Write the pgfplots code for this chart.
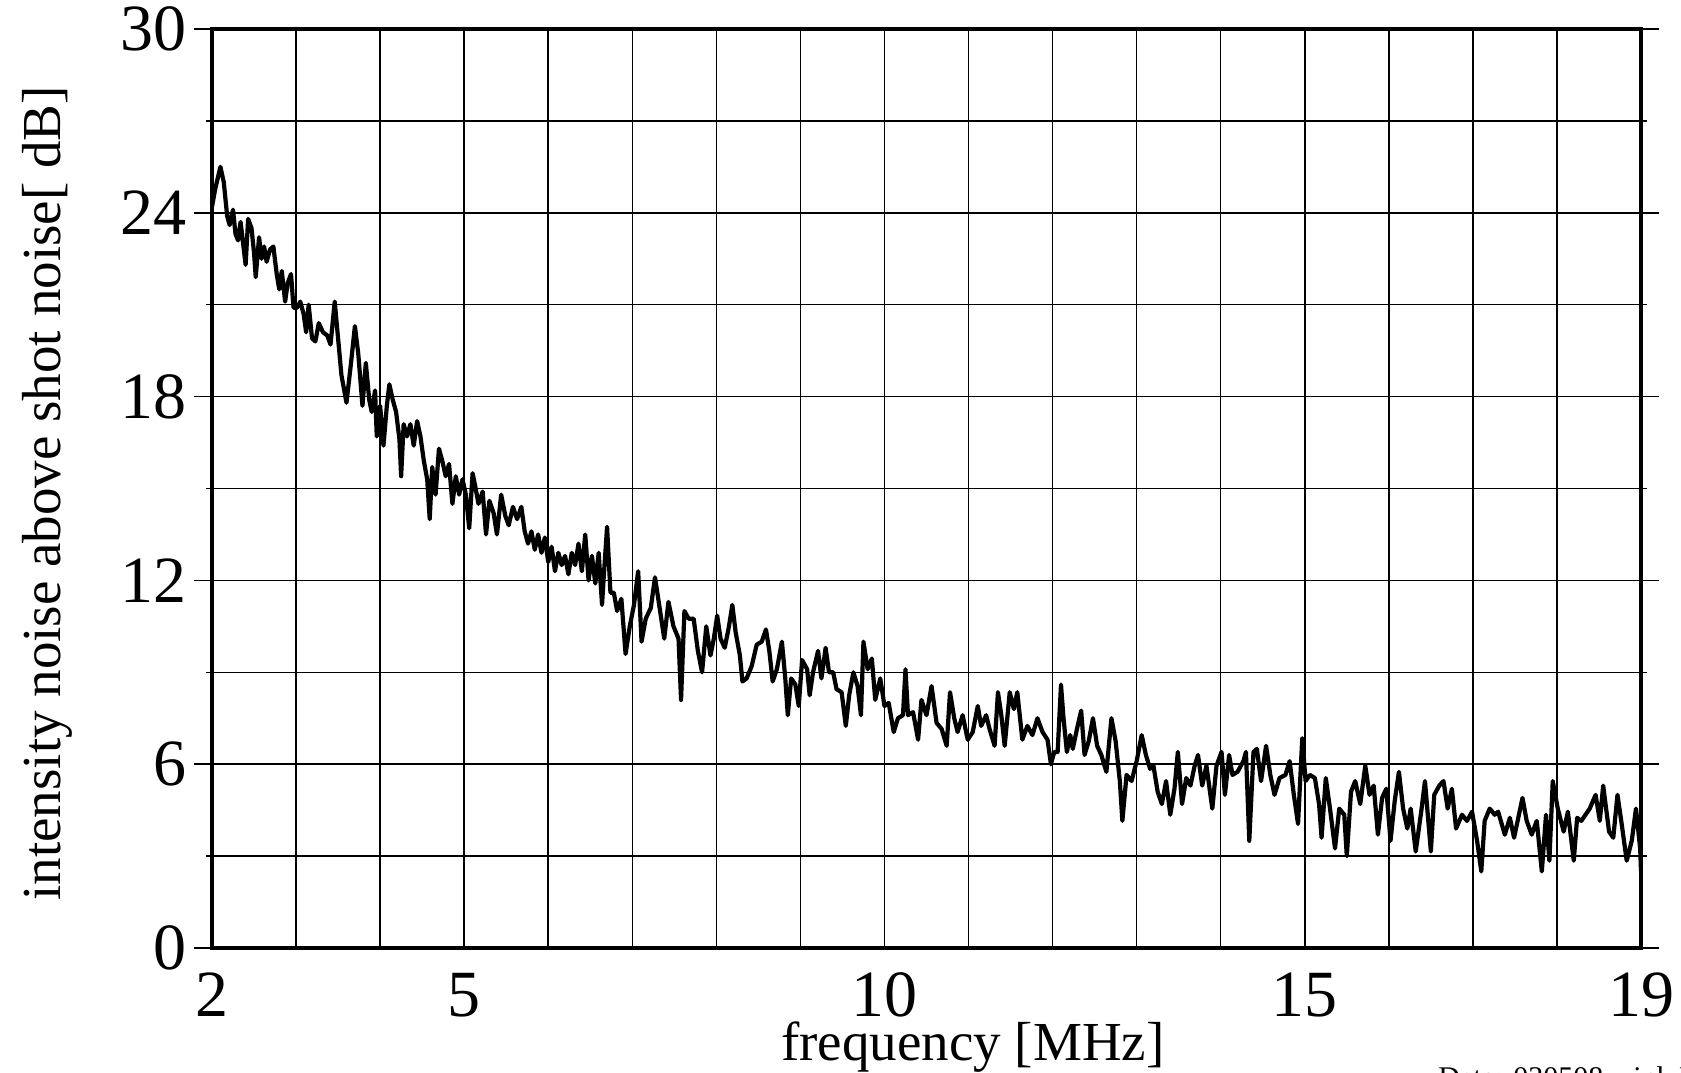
\documentclass[border=0pt]{standalone}
\usepackage{fontspec}
\setmainfont{Liberation Serif}
\usepackage{pgfplots}
\pgfplotsset{compat=1.18}
\usepackage{pgfplotstable}
\pgfplotstableread{
f db
2.00 24.2
2.04 24.8
2.10 25.5
2.14 25.0
2.18 23.9
2.21 23.6
2.25 24.1
2.28 23.3
2.31 23.1
2.34 23.7
2.37 23.0
2.40 22.3
2.43 23.8
2.47 23.5
2.50 22.7
2.52 21.9
2.56 23.2
2.59 22.5
2.62 22.9
2.65 22.4
2.69 22.8
2.73 22.9
2.77 22.0
2.80 21.5
2.83 22.1
2.87 21.1
2.90 21.7
2.94 22.0
2.97 20.9
3.01 20.9
3.05 21.1
3.09 20.7
3.12 20.1
3.15 21.0
3.19 19.9
3.23 19.8
3.27 20.4
3.32 20.1
3.37 20.0
3.41 19.7
3.46 21.1
3.50 19.9
3.54 18.7
3.60 17.8
3.65 19.0
3.70 20.3
3.74 19.4
3.79 17.7
3.83 19.1
3.87 17.9
3.90 17.5
3.94 18.2
3.96 16.7
4.00 17.7
4.04 16.4
4.08 17.7
4.11 18.4
4.15 17.9
4.19 17.5
4.23 16.6
4.25 15.4
4.28 17.1
4.32 16.7
4.36 17.1
4.40 16.4
4.44 17.2
4.48 16.7
4.52 15.9
4.56 15.3
4.59 14.0
4.62 15.7
4.66 14.8
4.70 16.3
4.74 15.9
4.78 15.4
4.82 15.8
4.86 14.5
4.90 15.4
4.94 14.8
4.98 15.3
5.02 14.8
5.06 13.7
5.10 15.5
5.13 15.1
5.17 14.5
5.22 14.9
5.26 13.5
5.30 14.6
5.35 14.2
5.39 13.5
5.44 14.8
5.49 14.1
5.53 13.8
5.58 14.4
5.63 14.0
5.68 14.4
5.72 13.6
5.76 13.2
5.80 13.6
5.84 13.0
5.88 13.5
5.92 12.9
5.96 13.4
6.00 12.6
6.04 13.1
6.08 12.3
6.12 12.9
6.16 12.5
6.20 12.8
6.24 12.2
6.28 12.9
6.32 12.5
6.36 13.2
6.40 12.3
6.44 13.5
6.48 12.0
6.52 12.8
6.56 11.9
6.60 12.9
6.64 11.2
6.66 12.1
6.70 13.75
6.74 11.6
6.78 11.6
6.82 11.0
6.87 11.4
6.92 9.6
6.97 10.5
7.02 11.2
7.07 12.3
7.11 10.0
7.16 10.75
7.22 11.1
7.27 12.1
7.32 11.2
7.38 10.1
7.43 11.3
7.49 10.5
7.55 10.1
7.58 8.1
7.62 11.0
7.67 10.75
7.73 10.75
7.78 9.7
7.83 9.0
7.88 10.5
7.93 9.55
7.97 10.1
8.01 10.85
8.05 10.1
8.10 9.8
8.15 10.5
8.19 11.2
8.23 10.3
8.28 9.55
8.31 8.7
8.36 8.8
8.42 9.2
8.48 9.9
8.54 10.0
8.59 10.4
8.63 9.7
8.67 8.7
8.72 9.1
8.78 10.0
8.82 8.8
8.85 7.6
8.89 8.8
8.94 8.6
8.98 7.9
9.02 9.4
9.08 9.1
9.11 8.25
9.15 9.0
9.21 9.7
9.25 8.8
9.30 9.8
9.34 9.0
9.39 9.0
9.43 8.45
9.49 8.35
9.54 7.25
9.58 8.25
9.63 9.0
9.68 8.55
9.72 7.6
9.75 10.0
9.80 9.1
9.85 9.45
9.89 8.1
9.95 8.8
10.00 7.9
10.05 8.0
10.11 7.05
10.16 7.5
10.22 7.6
10.25 9.1
10.28 7.6
10.34 7.7
10.40 6.8
10.44 8.1
10.50 7.6
10.56 8.55
10.62 7.35
10.68 7.15
10.74 6.6
10.78 8.35
10.83 7.5
10.87 7.05
10.93 7.6
10.99 6.8
11.05 7.05
11.11 7.9
11.15 7.25
11.21 7.6
11.25 7.15
11.31 6.6
11.35 8.35
11.39 7.6
11.43 6.6
11.49 8.35
11.54 7.8
11.58 8.35
11.64 6.8
11.70 7.25
11.76 6.95
11.82 7.5
11.88 7.05
11.94 6.8
11.98 6.0
12.02 6.4
12.06 6.4
12.10 8.6
12.13 7.5
12.17 6.4
12.21 6.95
12.24 6.5
12.29 7.15
12.34 7.75
12.38 6.3
12.43 6.75
12.48 7.5
12.53 6.6
12.58 6.3
12.64 5.75
12.70 7.5
12.75 6.75
12.80 5.45
12.83 4.15
12.88 5.65
12.94 5.45
13.00 6.1
13.06 6.95
13.11 6.3
13.16 5.85
13.20 5.95
13.25 5.1
13.30 4.7
13.35 5.45
13.40 4.35
13.45 5.2
13.49 6.4
13.54 4.7
13.59 5.55
13.64 5.3
13.69 5.95
13.73 6.3
13.78 5.3
13.83 5.95
13.90 4.55
13.95 5.95
14.01 6.4
14.05 5.0
14.10 6.3
14.14 5.65
14.20 5.75
14.27 6.1
14.30 6.4
14.34 3.5
14.39 6.4
14.43 6.5
14.48 5.45
14.54 6.6
14.59 5.65
14.64 5.0
14.70 5.55
14.77 5.65
14.82 6.1
14.87 5.0
14.92 4.05
14.97 6.85
15.01 5.45
15.06 5.65
15.12 5.55
15.17 4.7
15.20 3.6
15.25 5.55
15.30 4.55
15.36 3.25
15.41 4.55
15.47 4.35
15.50 3.0
15.55 5.1
15.60 5.45
15.66 4.7
15.72 5.95
15.77 5.0
15.82 5.3
15.87 3.7
15.92 4.9
15.97 5.2
16.02 3.5
16.07 4.8
16.12 5.75
16.17 4.55
16.22 3.9
16.26 4.55
16.32 3.15
16.39 4.55
16.43 5.45
16.50 3.15
16.54 5.0
16.60 5.3
16.65 5.45
16.70 4.55
16.75 5.2
16.80 3.9
16.87 4.35
16.93 4.15
16.99 4.45
17.05 3.5
17.10 2.5
17.14 4.15
17.20 4.55
17.26 4.35
17.30 4.45
17.38 3.7
17.44 4.25
17.49 3.6
17.59 4.9
17.64 4.15
17.70 3.7
17.76 4.15
17.82 2.5
17.87 4.35
17.91 2.85
17.95 5.45
18.01 4.55
18.08 3.8
18.13 4.45
18.20 2.85
18.24 4.25
18.29 4.15
18.39 4.55
18.46 5.0
18.51 4.15
18.55 5.3
18.62 3.8
18.67 3.6
18.72 5.0
18.77 4.05
18.83 2.85
18.89 3.5
18.94 4.55
18.99 3.25
19.00 2.5
}\noisedata
\begin{document}
\begin{tikzpicture}
\begin{axis}[
  name=ax, at={(0,0)}, anchor=south west,
  scale only axis, width=714.5pt, height=459.5pt,
  xmin=2, xmax=19, ymin=0, ymax=30,
  xtick={2,5,10,15,19},
  minor xtick={3,4,6,7,8,9,11,12,13,14,16,17,18},
  ytick={0,6,...,30},
  minor ytick={3,9,...,27},
  grid=both,
  major grid style={black, line width=0.75pt},
  minor grid style={black, line width=0.75pt},
  axis line style={black, line width=1.6pt},
  tick align=outside,
  major tick length=9pt, minor tick length=3pt,
  tick style={black, line width=0.75pt},
  every x tick/.append style={draw=none},
  every minor x tick/.append style={draw=none},
  /pgf/number format/assume math mode=true,
  ticklabel style={font=\fontsize{33}{36}\selectfont},
  xlabel={frequency [MHz]},
  ylabel={intensity noise above shot noise[ dB]},
  label style={font=\fontsize{27.5}{30}\selectfont, inner sep=0pt},
  xlabel style={at={(axis description cs:0.5325,0)}, anchor=base, yshift=-56pt},
  ylabel style={at={(axis description cs:-0.1057,0.4946)}, anchor=base},
]
\addplot[black, line width=2.1pt, line join=round, mark=none] table[x=f, y=db] {\noisedata};
\end{axis}
\node[anchor=north west, inner sep=0pt, font=\fontsize{15}{18}\selectfont] at ([shift={(613pt,-59pt)}]ax.south west) {Date: 030508\quad ink PN};
\pgfresetboundingbox
\path[use as bounding box] ([shift={(-106pt,-62pt)}]ax.south west) rectangle ([shift={(20pt,14.5pt)}]ax.north east);
\end{tikzpicture}
\end{document}
